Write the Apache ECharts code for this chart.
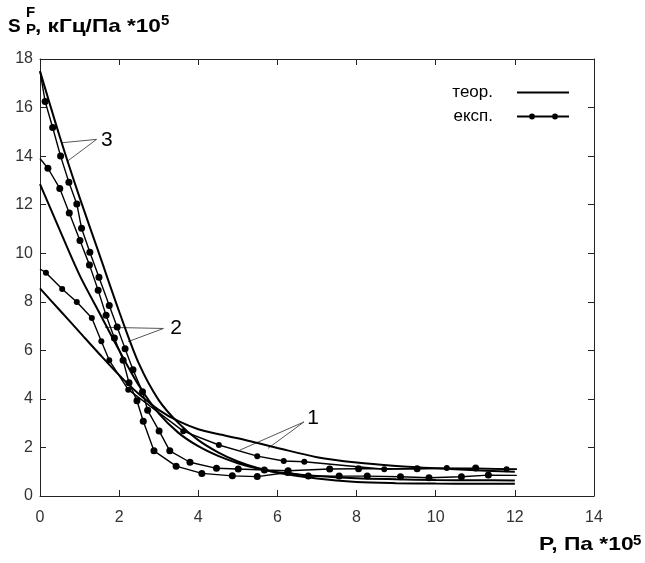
<!DOCTYPE html>
<html><head><meta charset="utf-8">
<script src="https://cdn.jsdelivr.net/npm/echarts@6/dist/echarts.min.js"></script>
<style>html,body{margin:0;padding:0;background:#fff}#c{width:645px;height:563px}</style>
</head><body><div id="c"></div>
<script>
// ---- data ----
const xMin = 0, xMax = 14, xStep = 2;
const yMin = 0, yMax = 18, yStep = 2;

// theoretical curves (common P grid)
const theoryP = [0, 0.5, 1, 1.5, 2, 2.5, 3, 3.5, 4, 4.5, 5, 5.5, 6, 7, 8, 9, 10, 11, 12];
const theory1 = [8.55, 7.65, 6.75, 5.85, 4.98, 4.2, 3.55, 3.08, 2.75, 2.55, 2.38, 2.18, 1.98, 1.6, 1.38, 1.24, 1.14, 1.06, 1.0];
const theory2 = [12.85, 10.95, 9.1, 7.55, 6.0, 4.55, 3.4, 2.6, 2.05, 1.65, 1.35, 1.13, 0.98, 0.82, 0.73, 0.69, 0.66, 0.65, 0.64];
const theory3 = [17.5, 14.8, 12.3, 9.95, 7.6, 5.45, 3.95, 3.0, 2.3, 1.8, 1.42, 1.15, 0.96, 0.72, 0.58, 0.53, 0.51, 0.5, 0.5];

// experimental curves
const exp1P = [0, 0.15, 0.56, 0.93, 1.31, 1.55, 1.75, 2.23, 3.62, 4.52, 5.49, 6.16, 6.68, 8.7, 10.28, 11.79, 12.05];
const exp1S = [9.35, 9.2, 8.53, 7.99, 7.33, 6.37, 5.59, 4.38, 2.67, 2.1, 1.64, 1.44, 1.41, 1.1, 1.15, 1.1, 1.1];
const exp2P = [0, 0.2, 0.5, 0.74, 1.01, 1.25, 1.47, 1.67, 1.88, 2.1, 2.25, 2.45, 2.61, 2.88, 3.44, 4.09, 4.86, 5.49, 6.26, 6.78, 7.56, 8.27, 9.11, 9.83, 10.65, 11.33, 12.05];
const exp2S = [13.9, 13.5, 12.67, 11.66, 10.52, 9.52, 8.47, 7.44, 6.51, 5.59, 4.66, 3.92, 3.08, 1.86, 1.23, 0.93, 0.83, 0.8, 0.97, 0.82, 0.82, 0.82, 0.79, 0.75, 0.79, 0.86, 0.85];
const exp3P = [0, 0.13, 0.32, 0.52, 0.73, 0.93, 1.05, 1.26, 1.49, 1.75, 1.95, 2.15, 2.35, 2.59, 2.72, 3.01, 3.28, 3.79, 4.46, 5.01, 5.67, 6.27, 7.32, 8.05, 9.53, 11.01, 12.05];
const exp3S = [17.5, 16.25, 15.18, 14.0, 12.92, 12.03, 11.03, 10.04, 9.01, 7.85, 6.96, 6.07, 5.2, 4.29, 3.53, 2.68, 1.86, 1.39, 1.14, 1.11, 1.07, 1.04, 1.11, 1.12, 1.12, 1.15, 1.1];

// curve number annotations (data coordinates)
const annoLabels = ['1', '2', '3'];
const annoTextPos = [[6.9, 3.21], [3.44, 6.92], [1.69, 14.66]];
const annoFrom = [[6.67, 3.05], [3.12, 6.9], [1.43, 14.69]];
const annoTargets = [[[5.05, 1.89], [5.76, 1.96]], [[1.64, 6.95], [2.23, 6.36]], [[0.55, 14.55], [0.675, 13.77]]];

const legendNames = ['теор.', 'експ.'];

// ---- chart ----
const FF = '"Liberation Sans", Arial, sans-serif';
const zip = (xs, ys) => xs.map((x, i) => [x, ys[i]]);
const chart = echarts.init(document.getElementById('c'), null, {renderer: 'canvas'});

function axis(pos, isX, showLabel) {
  return {
    type: 'value', position: pos,
    min: isX ? xMin : yMin, max: isX ? xMax : yMax, interval: isX ? xStep : yStep,
    axisLine: {show: true, onZero: false, lineStyle: {color: '#222', width: 1}},
    axisTick: {show: true, inside: true, length: 6, lineStyle: {color: '#222', width: 1}},
    axisLabel: {show: showLabel, color: '#333', fontSize: 16, fontFamily: FF, margin: isX ? 14 : 7},
    splitLine: {show: false}
  };
}

function theorySeries(ys) {
  return {
    type: 'line', name: legendNames[0], data: zip(theoryP, ys),
    smooth: 0.3, symbol: 'none', color: '#000',
    lineStyle: {color: '#000', width: 2}, z: 3
  };
}
function expSeries(xs, ys, size) {
  const last = xs.length - 1;
  return {
    type: 'line', name: legendNames[1], data: zip(xs, ys),
    smooth: false, symbol: 'circle',
    symbolSize: (v, p) => (p.dataIndex === 0 || p.dataIndex === last) ? 0 : size,
    showAllSymbol: true, color: '#000',
    itemStyle: {color: '#000'},
    lineStyle: {color: '#000', width: 1.4}, z: 4
  };
}

const theorIcon = 'path://M0 4H52V6H0Z';
const expIcon = 'path://M0 4H12V6H0Z M18 4H35V6H18Z M41 4H52V6H41Z M12 5A3 3 0 1 1 18 5A3 3 0 1 1 12 5Z M35 5A3 3 0 1 1 41 5A3 3 0 1 1 35 5Z';

chart.setOption({
  animation: false,
  backgroundColor: '#fff',
  grid: {left: 40, right: 51, top: 59, bottom: 67},
  xAxis: [axis('bottom', true, true), axis('top', true, false)],
  yAxis: [axis('left', false, true), axis('right', false, false)],
  legend: {
    orient: 'vertical', right: 71, top: 79, align: 'right',
    itemWidth: 52, itemHeight: 10, itemGap: 7, selectedMode: false,
    textStyle: {fontSize: 17, color: '#000', fontFamily: FF, padding: [0, 19, 0, 0]},
    data: [{name: legendNames[0], icon: theorIcon}, {name: legendNames[1], icon: expIcon}]
  },
  series: [
    theorySeries(theory1), theorySeries(theory2), theorySeries(theory3),
    expSeries(exp1P, exp1S, 6), expSeries(exp2P, exp2S, 7), expSeries(exp3P, exp3S, 7)
  ]
});

const toPx = p => chart.convertToPixel({xAxisIndex: 0, yAxisIndex: 0}, p);
const graphics = [];
annoLabels.forEach((lab, i) => {
  const tp = toPx(annoTextPos[i]);
  graphics.push({type: 'text', x: tp[0], y: tp[1], silent: true,
    style: {text: lab, font: '21px ' + FF, fill: '#000', align: 'center', verticalAlign: 'middle'}});
  const f = toPx(annoFrom[i]);
  annoTargets[i].forEach(t => {
    const tt = toPx(t);
    graphics.push({type: 'line', silent: true,
      shape: {x1: f[0], y1: f[1], x2: tt[0], y2: tt[1]},
      style: {stroke: '#555', lineWidth: 1}});
  });
});
// axis titles
const bold = s => 'bold ' + s + 'px ' + FF;
graphics.push(
  {type: 'text', x: 8, y: 27, style: {text: 'S', font: bold(19), fill: '#000', verticalAlign: 'middle'}},
  {type: 'text', x: 26, y: 13, style: {text: 'F', font: bold(15), fill: '#000', verticalAlign: 'middle'}},
  {type: 'text', x: 26, y: 30, style: {text: 'P', font: bold(15), fill: '#000', verticalAlign: 'middle'}},
  {type: 'text', x: 35, y: 27, scaleX: 1.19, style: {text: ', кГц/Па *10', font: bold(19), fill: '#000', verticalAlign: 'middle'}},
  {type: 'text', x: 161, y: 21, style: {text: '5', font: bold(15), fill: '#000', verticalAlign: 'middle'}},
  {type: 'text', x: 539, y: 545, scaleX: 1.2, style: {text: 'P, Па *10', font: bold(19), fill: '#000', verticalAlign: 'middle'}},
  {type: 'text', x: 633, y: 541, style: {text: '5', font: bold(15), fill: '#000', verticalAlign: 'middle'}}
);
chart.setOption({graphic: graphics});
</script>
</body></html>
